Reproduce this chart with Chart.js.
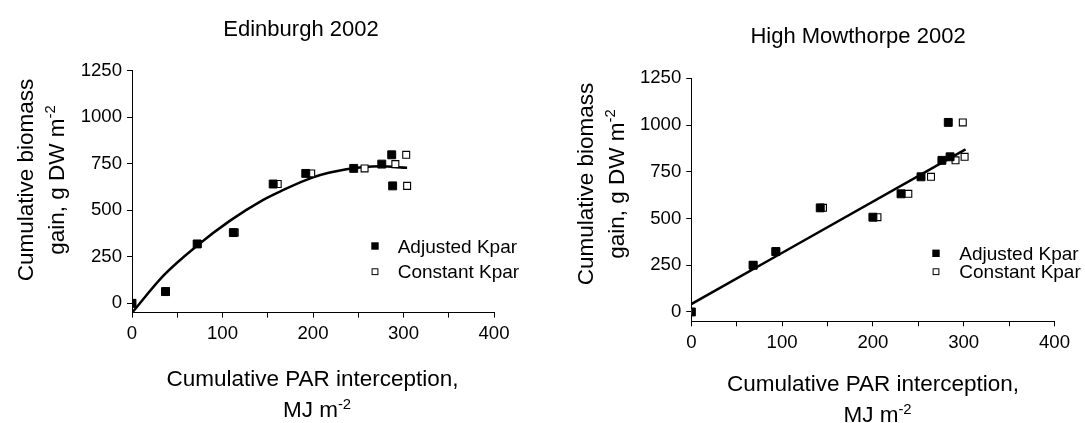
<!DOCTYPE html>
<html>
<head>
<meta charset="utf-8">
<title>Cumulative biomass gain vs cumulative PAR interception, 2002</title>
<script src="https://cdn.jsdelivr.net/npm/chart.js@4.4.1/dist/chart.umd.min.js"></script>
<style>
  html, body { margin: 0; padding: 0; background: #fff; width: 1085px; height: 423px; overflow: hidden; }
  canvas { position: absolute; top: 0; }
  #edinburgh { left: 0; }
  #mowthorpe { left: 540px; }
</style>
</head>
<body>
<canvas id="edinburgh" width="540" height="423"></canvas>
<canvas id="mowthorpe" width="545" height="423"></canvas>
<script>
// ---- Edinburgh 2002 ----
const edinParAdjusted   = [0, 37, 72, 112, 156, 192, 245, 276, 287, 288];
const edinGainAdjusted  = [0, 63, 319, 380, 641, 698, 725, 748, 798, 631];
const edinParConstant   = [0, 37.5, 72.5, 113.5, 161, 198, 257, 291, 303, 304];
const edinGainConstant  = [0, 63, 319, 380, 641, 698, 725, 748, 798, 631];
const edinFitPar        = [0, 35, 72, 108, 145, 164, 200, 237, 274, 304];
const edinFitGain       = [-51, 150, 310, 443, 556, 602, 677, 720, 736, 728];

// ---- High Mowthorpe 2002 ----
const hmParAdjusted     = [0, 68, 93, 142, 200, 231, 253, 276, 283, 285];
const hmGainAdjusted    = [0, 250, 323, 557, 507, 632, 723, 811, 1014, 830];
const hmParConstant     = [0, 68.5, 93.5, 145, 205, 239, 264, 291, 299, 301];
const hmGainConstant    = [0, 250, 323, 557, 507, 632, 723, 811, 1014, 830];
const hmFitPar          = [0, 302];
const hmFitGain         = [42, 870];

// ---- Axes ----
const yTickValues = [0, 250, 500, 750, 1000, 1250];
const xTickValues = [0, 50, 100, 150, 200, 250, 300, 350, 400];
const xTickLabels = ['0', '', '100', '', '200', '', '300', '', '400'];
const seriesLabels = ['Adjusted Kpar', 'Constant Kpar'];

const FONT = "'Liberation Sans', Arial, Helvetica, sans-serif";
const zip = (xs, ys) => xs.map((x, i) => ({ x: x, y: ys[i] }));

// Draws one line of text made of normal and superscript runs, centred on cx.
function drawRich(ctx, parts, cx, baseline, size) {
  const supSize = size * 0.66;
  const widths = parts.map(p => {
    ctx.font = (p.sup ? supSize : size) + 'px ' + FONT;
    return ctx.measureText(p.text).width;
  });
  const total = widths.reduce((a, b) => a + b, 0);
  let x = cx - total / 2;
  ctx.textAlign = 'left';
  ctx.textBaseline = 'alphabetic';
  parts.forEach((p, i) => {
    ctx.font = (p.sup ? supSize : size) + 'px ' + FONT;
    ctx.fillText(p.text, x, p.sup ? baseline - size * 0.37 : baseline);
    x += widths[i];
  });
}

// Panel title, two-line axis titles with superscripts, and the in-plot legend.
const panelText = {
  id: 'panelText',
  afterDraw(chart, args, o) {
    const ctx = chart.ctx;
    ctx.save();
    ctx.fillStyle = '#000';

    ctx.font = o.title.size + 'px ' + FONT;
    ctx.textAlign = 'center';
    ctx.textBaseline = 'alphabetic';
    ctx.fillText(o.title.text, o.title.x, o.title.y);

    o.xTitle.lines.forEach((parts, i) => {
      drawRich(ctx, parts, o.xTitle.x + o.xTitle.shift[i], o.xTitle.y[i], o.axisSize);
    });

    o.yTitle.lines.forEach((parts, i) => {
      ctx.save();
      ctx.translate(o.yTitle.x[i], o.yTitle.y);
      ctx.rotate(-Math.PI / 2);
      drawRich(ctx, parts, 0, 0, o.axisSize);
      ctx.restore();
    });

    const lg = o.legend;
    seriesLabels.forEach((label, i) => {
      const cy = lg.y[i];
      ctx.lineWidth = 1;
      ctx.strokeStyle = '#000';
      if (i === 0) {
        ctx.fillStyle = '#000';
        ctx.fillRect(lg.x - 3.7, cy - 3.7, 7.4, 7.4);
      } else {
        ctx.fillStyle = '#fff';
        ctx.fillRect(lg.x - 2.9, cy - 2.9, 5.8, 5.8);
        ctx.strokeRect(lg.x - 2.9, cy - 2.9, 5.8, 5.8);
      }
      ctx.fillStyle = '#000';
      ctx.font = lg.size + 'px ' + FONT;
      ctx.textAlign = 'left';
      ctx.textBaseline = 'alphabetic';
      ctx.fillText(label, lg.textX, cy + 6.7);
    });
    ctx.restore();
  }
};

function axis(min, max, values, labelFor, fixedSize, isX) {
  return {
    type: 'linear',
    min: min,
    max: max,
    afterBuildTicks: s => { s.ticks = values.map(v => ({ value: v })); },
    afterFit: s => {
      if (isX) { s.height = fixedSize; } else { s.width = fixedSize; }
      s.paddingLeft = 0; s.paddingRight = 0; s.paddingTop = 0; s.paddingBottom = 0;
    },
    ticks: {
      autoSkip: false,
      maxRotation: 0,
      minRotation: 0,
      padding: 5,
      color: '#000',
      font: { family: FONT, size: 18.6 },
      callback: labelFor
    },
    grid: { drawOnChartArea: false, drawTicks: true, tickLength: 5, color: '#000', lineWidth: 1 },
    border: { display: true, color: '#000', width: 1 }
  };
}

function buildPanel(canvasId, d, layoutPadding, text) {
  return new Chart(document.getElementById(canvasId), {
    type: 'scatter',
    data: {
      datasets: [
        {
          label: seriesLabels[0],
          data: zip(d.parAdj, d.gainAdj),
          pointStyle: 'rect',
          pointRadius: 5.6,
          pointBorderWidth: 1,
          backgroundColor: '#000',
          borderColor: '#000',
          order: 1
        },
        {
          label: seriesLabels[1],
          data: zip(d.parConst, d.gainConst),
          pointStyle: 'rect',
          pointRadius: 4.9,
          pointBorderWidth: 1.1,
          backgroundColor: '#fff',
          borderColor: '#000',
          order: 2
        },
        {
          label: 'fit',
          data: zip(d.fitPar, d.fitGain),
          showLine: true,
          pointRadius: 0,
          borderColor: '#000',
          borderWidth: 2.5,
          cubicInterpolationMode: 'monotone',
          fill: false,
          order: 3
        }
      ]
    },
    options: {
      responsive: false,
      animation: false,
      devicePixelRatio: 1,
      events: [],
      layout: { padding: layoutPadding },
      plugins: {
        legend: { display: false },
        title: { display: false },
        tooltip: { enabled: false },
        panelText: text
      },
      scales: {
        x: axis(0, 400, xTickValues, v => xTickLabels[xTickValues.indexOf(v)] || '', 40, true),
        y: axis(-50, 1250, yTickValues, v => String(v), 60, false)
      }
    },
    plugins: [panelText]
  });
}

const xTitleLines = [
  [{ text: 'Cumulative PAR interception,' }],
  [{ text: 'MJ m' }, { text: '-2', sup: true }]
];
const yTitleLines = [
  [{ text: 'Cumulative biomass' }],
  [{ text: 'gain, g DW m' }, { text: '-2', sup: true }]
];

buildPanel('edinburgh',
  { parAdj: edinParAdjusted, gainAdj: edinGainAdjusted, parConst: edinParConstant,
    gainConst: edinGainConstant, fitPar: edinFitPar, fitGain: edinFitGain },
  { left: 72, right: 46, top: 70.7, bottom: 70.4 },
  {
    axisSize: 22.5,
    title: { text: 'Edinburgh 2002', x: 301, y: 35.5, size: 22 },
    xTitle: { lines: xTitleLines, x: 312.5, shift: [0, 4.5], y: [386, 417] },
    yTitle: { lines: yTitleLines, x: [33.3, 63.8], y: 180 },
    legend: { x: 375, y: [246, 271.7], textX: 397.7, size: 19 }
  });

buildPanel('mowthorpe',
  { parAdj: hmParAdjusted, gainAdj: hmGainAdjusted, parConst: hmParConstant,
    gainConst: hmGainConstant, fitPar: hmFitPar, fitGain: hmFitGain },
  { left: 91.3, right: 30.5, top: 78.3, bottom: 61.7 },
  {
    axisSize: 22.5,
    title: { text: 'High Mowthorpe 2002', x: 318, y: 43, size: 22 },
    xTitle: { lines: xTitleLines, x: 333, shift: [0, 4.5], y: [391, 422] },
    yTitle: { lines: yTitleLines, x: [53.3, 83.8], y: 184 },
    legend: { x: 396, y: [253.3, 271.7], textX: 419.3, size: 19 }
  });
</script>
</body>
</html>
